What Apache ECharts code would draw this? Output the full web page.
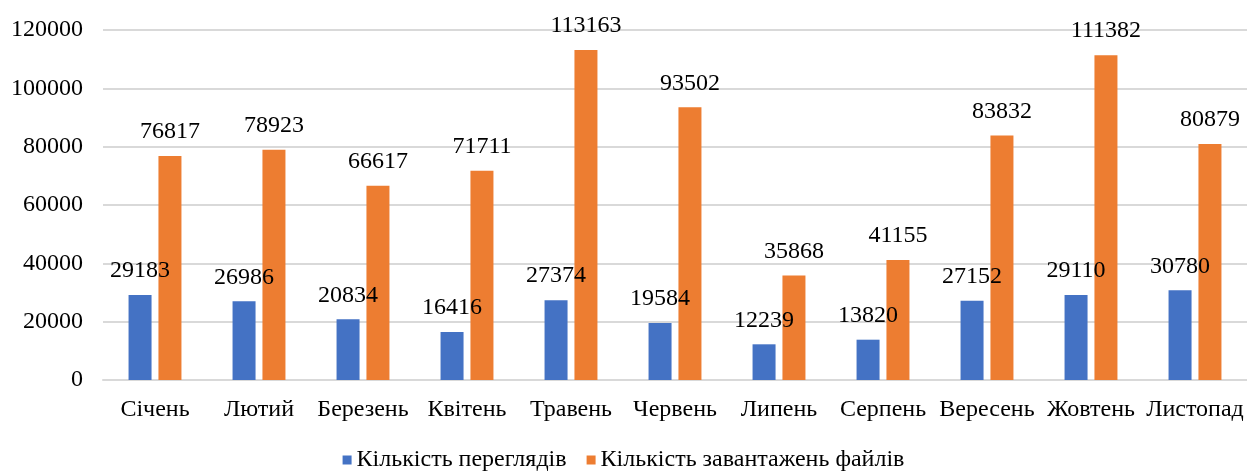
<!DOCTYPE html>
<html><head><meta charset="utf-8">
<script src="https://cdn.jsdelivr.net/npm/echarts@6/dist/echarts.min.js"></script>
<style>html,body{margin:0;padding:0;background:#fff}#c{width:1247px;height:473px}</style>
</head><body><div id="c"></div>
<script>
const categories = ['Січень','Лютий','Березень','Квітень','Травень','Червень','Липень','Серпень','Вересень','Жовтень','Листопад'];
const views = [29183,26986,20834,16416,27374,19584,12239,13820,27152,29110,30780];
const downloads = [76817,78923,66617,71711,113163,93502,35868,41155,83832,111382,80879];
const seriesNames = ['Кількість переглядів','Кількість завантажень файлів'];
const font = 'Liberation Serif';
const fs = 24;
const chart = echarts.init(document.getElementById('c'));
const lbl = {show:true, position:'top', distance:12, color:'#000', fontFamily:font, fontSize:fs};
chart.setOption({
  animation:false,
  textStyle:{fontFamily:font},
  grid:{left:103, right:0, top:30, bottom:93},
  legend:{show:true, top:447, left:'center', padding:0, itemWidth:9, itemHeight:9, itemGap:20, icon:'rect',
    data:seriesNames,
    textStyle:{fontFamily:font, fontSize:fs, color:'#000', fontWeight:'normal', lineHeight:26}},
  xAxis:{type:'category', data:categories,
    axisLine:{lineStyle:{color:'#d9d9d9', width:2}}, axisTick:{show:false},
    axisLabel:{color:'#000', fontFamily:font, fontSize:fs, margin:18, interval:0}},
  yAxis:{type:'value', min:0, max:120000, interval:20000,
    axisLine:{show:false}, axisTick:{show:false},
    splitLine:{lineStyle:{color:'#d9d9d9', width:2}},
    axisLabel:{color:'#000', fontFamily:font, fontSize:fs, margin:20, formatter:v=>String(v)}},
  series:[
    {name:seriesNames[0], type:'bar', data:views, barWidth:23, barGap:'30%', itemStyle:{color:'#4472c4'}, label:lbl},
    {name:seriesNames[1], type:'bar', data:downloads, barWidth:23, itemStyle:{color:'#ed7d31'}, label:lbl}
  ]
});
</script></body></html>
